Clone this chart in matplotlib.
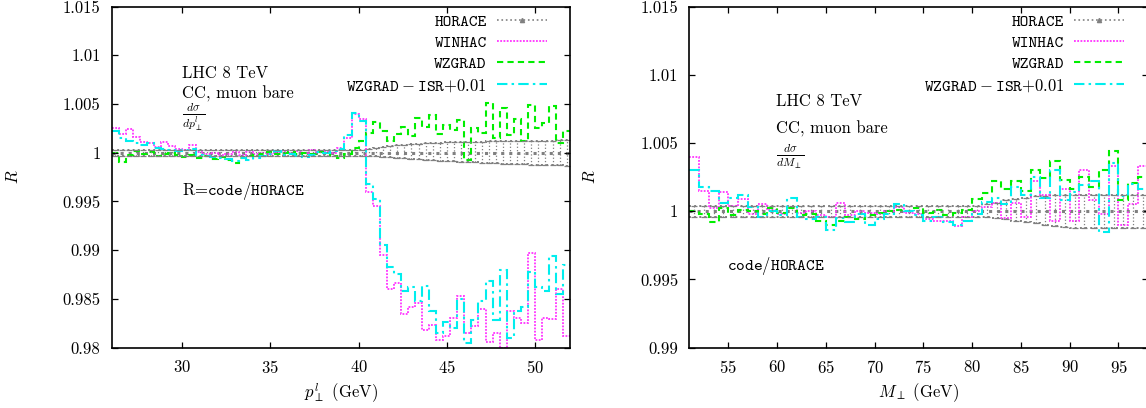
import numpy as np
import matplotlib.pyplot as plt
from matplotlib.lines import Line2D
from matplotlib.ticker import FixedLocator, FuncFormatter

plt.rcParams['font.family'] = 'cmr10'
plt.rcParams['mathtext.fontset'] = 'cm'
plt.rcParams['axes.formatter.use_mathtext'] = True
plt.rcParams['axes.unicode_minus'] = False

# ---- left panel: lepton pT, 0.4 GeV bins from 26 to 52 GeV
pt_edges = np.linspace(26, 52, 66)
pt_winhac = [1.0025, 1.0019, 1.0024, 1.0016, 1.0011, 1.0010, 1.0006, 1.0011, 1.0007, 1.0004,
             1.0003, 1.0008, 1.0001, 0.9999, 1.0000, 0.9998, 0.9999, 1.0001, 0.9998, 1.0001,
             0.9999, 1.0000, 0.9999, 1.0001, 1.0002, 1.0000, 1.0002, 1.0000, 1.0003, 1.0001,
             1.0002, 1.0000, 1.0005, 1.0015, 1.0040, 1.0035, 0.9960, 0.9945, 0.9895, 0.9860,
             0.9866, 0.9835, 0.9842, 0.9846, 0.9818, 0.9823, 0.9808, 0.9812, 0.9830, 0.9853,
             0.9815, 0.9822, 0.9840, 0.9806, 0.9815, 0.9800, 0.9838, 0.9830, 0.9825, 0.9897,
             0.9808, 0.9830, 0.9829, 0.9860, 0.9812]
pt_wzgrad = [1.0000, 0.9990, 0.9998, 1.0002, 0.9999, 1.0001, 0.9997, 0.9999, 1.0000, 0.9998,
             0.9996, 0.9998, 0.9995, 0.9997, 0.9994, 0.9996, 0.9993, 0.9989, 0.9995, 0.9997,
             0.9998, 0.9999, 1.0001, 0.9999, 1.0000, 1.0001, 0.9999, 1.0000, 0.9999, 1.0001,
             1.0000, 0.9997, 0.9995, 0.9999, 1.0005, 1.0012, 1.0020, 1.0031, 1.0022, 1.0012,
             1.0019, 1.0026, 1.0017, 1.0036, 1.0026, 1.0039, 1.0019, 1.0028, 1.0023, 1.0034,
             0.9993, 1.0025, 1.0020, 1.0051, 1.0015, 1.0046, 1.0018, 1.0035, 1.0012, 1.0049,
             1.0025, 1.0030, 1.0048, 1.0010, 1.0022]
pt_wzgrad_isr = [1.0022, 1.0015, 1.0012, 1.0010, 1.0008, 1.0010, 1.0005, 1.0004, 1.0003, 1.0002,
                 1.0003, 1.0004, 0.9998, 0.9997, 0.9996, 0.9995, 0.9994, 0.9992, 0.9995, 0.9993,
                 0.9995, 0.9997, 0.9999, 1.0002, 0.9998, 0.9999, 0.9997, 0.9996, 0.9998, 1.0001,
                 1.0000, 1.0002, 1.0004, 1.0018, 1.0041, 1.0033, 0.9968, 0.9952, 0.9905, 0.9883,
                 0.9876, 0.9858, 0.9862, 0.9848, 0.9863, 0.9838, 0.9815, 0.9826, 0.9820, 0.9850,
                 0.9805, 0.9828, 0.9848, 0.9868, 0.9828, 0.9880, 0.9810, 0.9838, 0.9842, 0.9878,
                 0.9862, 0.9858, 0.9894, 0.9855, 0.9885]
pt_horace_up = [0.0003, 0.0003, 0.0003, 0.0003, 0.0003, 0.0003, 0.0003, 0.0003, 0.0003, 0.0003,
                0.0003, 0.0003, 0.0003, 0.0003, 0.0003, 0.0003, 0.0003, 0.0003, 0.0003, 0.0003,
                0.0003, 0.0003, 0.0003, 0.0003, 0.0003, 0.0003, 0.0003, 0.0003, 0.0003, 0.0003,
                0.0003, 0.0003, 0.0003, 0.0003, 0.0003, 0.00032, 0.0004, 0.0005, 0.0006, 0.0007,
                0.00075, 0.0008, 0.00085, 0.0009, 0.00095, 0.001, 0.001, 0.00105, 0.0011, 0.0011,
                0.0011, 0.00115, 0.00115, 0.0012, 0.0012, 0.0012, 0.0012, 0.0012, 0.0012, 0.00125,
                0.00125, 0.00125, 0.00125, 0.0013, 0.0013]
pt_horace_lo = [0.0003, 0.0003, 0.0003, 0.0003, 0.0003, 0.0003, 0.0003, 0.0003, 0.0003, 0.0003,
                0.0003, 0.0003, 0.0003, 0.0003, 0.0003, 0.0003, 0.0003, 0.0003, 0.0003, 0.0003,
                0.0003, 0.0003, 0.0003, 0.0003, 0.0003, 0.0003, 0.0003, 0.0003, 0.0003, 0.0003,
                0.0003, 0.0003, 0.0003, 0.0003, 0.0003, 0.0003, 0.00033, 0.00037, 0.0004, 0.00045,
                0.0005, 0.00055, 0.0006, 0.00065, 0.0007, 0.00075, 0.0008, 0.00085, 0.0009, 0.00095,
                0.001, 0.001, 0.00105, 0.0011, 0.0011, 0.00115, 0.00115, 0.0012, 0.0012, 0.00125,
                0.00125, 0.0013, 0.0013, 0.0013, 0.00135]

# ---- right panel: transverse mass, 1 GeV bins from 51 to 98 GeV
mt_edges = np.linspace(51, 98, 48)
mt_winhac = [1.0040, 1.0015, 1.0002, 1.0014, 1.0004, 1.0009, 0.9998, 1.0005, 1.0001, 0.9998,
             1.0003, 0.9999, 1.0000, 0.9997, 0.9996, 1.0006, 0.9997, 1.0000, 0.9999, 0.9998,
             1.0000, 1.0003, 0.9999, 0.9998, 0.9994, 0.9993, 0.9993, 0.9989, 0.9996, 1.0000,
             1.0003, 1.0006, 0.9995, 1.0006, 0.9996, 1.0022, 1.0012, 0.9993, 1.0016, 0.9993,
             1.0030, 1.0008, 0.9998, 1.0033, 0.9990, 1.0005, 1.0033]
mt_wzgrad = [1.0000, 0.9998, 0.9992, 1.0002, 0.9997, 1.0001, 1.0000, 0.9998, 1.0002, 0.9999,
             1.0002, 0.9997, 0.9998, 0.9993, 0.9990, 0.9993, 0.9996, 0.9994, 0.9997, 0.9999,
             1.0000, 1.0001, 1.0000, 1.0002, 0.9999, 1.0001, 0.9997, 0.9999, 1.0001, 1.0009,
             1.0013, 1.0022, 1.0016, 1.0022, 1.0015, 1.0030, 1.0024, 1.0037, 1.0023, 1.0016,
             1.0025, 1.0018, 1.0030, 1.0044, 1.0008, 1.0021, 1.0025]
mt_wzgrad_isr = [1.0030, 1.0018, 1.0015, 1.0006, 1.0010, 1.0012, 1.0003, 0.9996, 1.0000, 0.9997,
                 1.0010, 0.9996, 0.9994, 0.9996, 0.9986, 0.9995, 0.9992, 0.9998, 0.9990, 0.9994,
                 0.9998, 1.0005, 1.0000, 0.9997, 0.9993, 0.9996, 0.9992, 0.9990, 0.9993, 0.9998,
                 1.0007, 1.0010, 1.0005, 1.0018, 1.0012, 1.0025, 1.0010, 1.0030, 1.0008, 1.0014,
                 1.0019, 1.0022, 0.9985, 1.0035, 1.0011, 1.0020, 1.0016]
mt_horace_up = [0.0004, 0.0004, 0.0004, 0.0004, 0.0004, 0.0004, 0.0004, 0.0004, 0.0004, 0.0004,
                0.0004, 0.0004, 0.0004, 0.0004, 0.0004, 0.0004, 0.0004, 0.0004, 0.0004, 0.0004,
                0.0004, 0.0004, 0.0004, 0.0004, 0.0004, 0.0004, 0.0004, 0.0004, 0.0004, 0.0004,
                0.0005, 0.0006, 0.0008, 0.0009, 0.0010, 0.0011, 0.0011, 0.0012, 0.0012, 0.0012,
                0.0012, 0.0012, 0.0012, 0.0012, 0.0012, 0.0012, 0.0012]
mt_horace_lo = [0.0004, 0.0004, 0.0004, 0.0004, 0.0004, 0.0004, 0.0004, 0.0004, 0.0004, 0.0004,
                0.0004, 0.0004, 0.0004, 0.0004, 0.0004, 0.0004, 0.0004, 0.0004, 0.0004, 0.0004,
                0.0004, 0.0004, 0.0004, 0.0004, 0.0004, 0.0004, 0.0004, 0.0004, 0.0004, 0.0004,
                0.00045, 0.0005, 0.0006, 0.0007, 0.0008, 0.0009, 0.001, 0.0011, 0.00115, 0.0012,
                0.0012, 0.0012, 0.0012, 0.0012, 0.0012, 0.0012, 0.0012]

GRAY = '#808080'
MAGENTA = '#ff33ff'
GREEN = '#00ee00'
CYAN = '#00eeee'
FS = 12


def draw_panel(ax, edges, hor_up, hor_lo, winhac, wzgrad, wzgrad_isr):
    centers = (edges[:-1] + edges[1:]) / 2
    ones = np.ones(len(centers))
    up = np.array(hor_up)
    lo = np.array(hor_lo)
    eb = ax.errorbar(centers, ones, yerr=[lo, up], fmt='none', ecolor=GRAY,
                     elinewidth=0.9, capsize=2, capthick=0.9)
    eb.lines[2][0].set_linestyle(':')
    ax.stairs(ones + up, edges, baseline=None, color=GRAY, ls=':', lw=1.4)
    ax.stairs(ones - lo, edges, baseline=None, color=GRAY, ls=':', lw=1.4)
    ax.stairs(ones, edges, baseline=None, color=GRAY, ls=':', lw=2.2)
    ax.stairs(winhac, edges, baseline=None, color=MAGENTA, ls=(0, (1, 0.8)), lw=1.3)
    ax.stairs(wzgrad, edges, baseline=None, color=GREEN, ls=(0, (3, 2)), lw=1.5)
    ax.stairs(wzgrad_isr, edges, baseline=None, color=CYAN, ls=(0, (5, 2, 1.2, 2)), lw=1.5)

    ax.tick_params(direction='in', top=True, right=True, length=4.5, width=0.9,
                   pad=8, labelsize=FS)
    ax.yaxis.set_major_formatter(FuncFormatter(lambda v, p: '%g' % round(v, 4)))
    for s in ax.spines.values():
        s.set_linewidth(1.2)
    ax.set_ylabel(r'$R$', fontsize=FS, labelpad=30)

    handles = [
        Line2D([], [], color=GRAY, ls=':', lw=1.2, marker='^', markersize=3),
        Line2D([], [], color=MAGENTA, ls=(0, (1, 0.8)), lw=1.3),
        Line2D([], [], color=GREEN, ls=(0, (3, 2)), lw=1.5),
        Line2D([], [], color=CYAN, ls=(0, (5, 2, 1.2, 2)), lw=1.5),
    ]
    labels = ['HORACE', 'WINHAC', 'WZGRAD', r'$\mathtt{WZGRAD}-\mathtt{ISR}{+}0.01$']
    ax.legend(handles, labels, loc='upper right', bbox_to_anchor=(0.949, 0.978),
              frameon=False, markerfirst=False, borderaxespad=0, borderpad=0,
              handlelength=3.0, handletextpad=0.6, labelspacing=0.33, numpoints=1,
              prop={'family': 'cmtt10', 'size': FS})


fig = plt.figure(figsize=(11.46, 4.08), dpi=100)
ax1 = fig.add_axes([0.0975, 0.148, 0.400, 0.836])
ax2 = fig.add_axes([0.6015, 0.148, 0.400, 0.836])

draw_panel(ax1, pt_edges, pt_horace_up, pt_horace_lo, pt_winhac, pt_wzgrad, pt_wzgrad_isr)
ax1.set_xlim(26, 52)
ax1.set_ylim(0.98, 1.015)
ax1.xaxis.set_major_locator(FixedLocator([30, 35, 40, 45, 50]))
ax1.yaxis.set_major_locator(FixedLocator([0.98, 0.985, 0.99, 0.995, 1.0, 1.005, 1.01, 1.015]))
ax1.set_xlabel(r'$p^l_\perp$ (GeV)', fontsize=FS, labelpad=4)
ax1.text(30, 1.00815, 'LHC 8 TeV', fontsize=FS, va='center')
ax1.text(30, 1.00603, 'CC, muon bare', fontsize=FS, va='center')
ax1.text(30, 1.0037, r'$\frac{d\sigma}{dp^l_\perp}$', fontsize=FS, va='center')
ax1.text(30, 0.9961, r'R=$\mathtt{code/HORACE}$', fontsize=FS, va='center')

draw_panel(ax2, mt_edges, mt_horace_up, mt_horace_lo, mt_winhac, mt_wzgrad, mt_wzgrad_isr)
ax2.set_xlim(51, 98)
ax2.set_ylim(0.99, 1.015)
ax2.xaxis.set_major_locator(FixedLocator([55, 60, 65, 70, 75, 80, 85, 90, 95]))
ax2.yaxis.set_major_locator(FixedLocator([0.99, 0.995, 1.0, 1.005, 1.01, 1.015]))
ax2.set_xlabel(r'$M_\perp$ (GeV)', fontsize=FS, labelpad=4)
ax2.text(59.9, 1.00805, 'LHC 8 TeV', fontsize=FS, va='center')
ax2.text(59.9, 1.00605, 'CC, muon bare', fontsize=FS, va='center')
ax2.text(59.9, 1.00402, r'$\frac{d\sigma}{dM_\perp}$', fontsize=FS, va='center')
ax2.text(54.9, 0.99598, r'$\mathtt{code/HORACE}$', fontsize=FS, va='center')

fig.savefig('out.png', dpi=100)
